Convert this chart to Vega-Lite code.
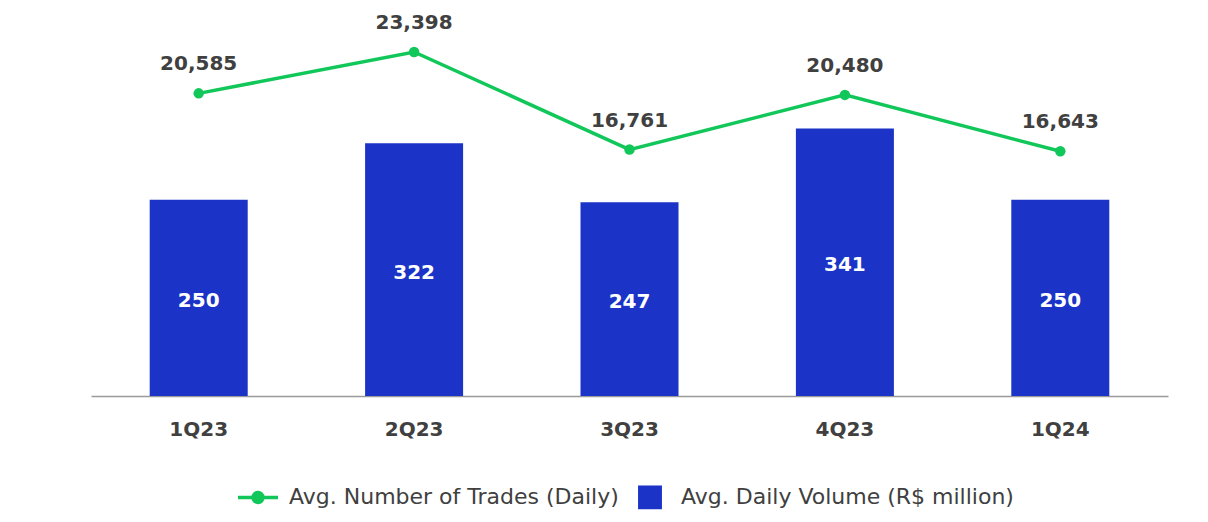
{
  "$schema": "https://vega.github.io/schema/vega-lite/v6.json",
  "width": 1077,
  "height": 386,
  "padding": {"left": 91, "top": 10, "right": 40, "bottom": 5},
  "background": "white",
  "config": {
    "view": {"stroke": null},
    "font": "DejaVu Sans"
  },
  "data": {
    "values": [
      {"quarter": "1Q23", "trades": 20585, "volume": 250},
      {"quarter": "2Q23", "trades": 23398, "volume": 322},
      {"quarter": "3Q23", "trades": 16761, "volume": 247},
      {"quarter": "4Q23", "trades": 20480, "volume": 341},
      {"quarter": "1Q24", "trades": 16643, "volume": 250}
    ]
  },
  "layer": [
    {
      "layer": [
        {
          "mark": {"type": "bar"},
          "encoding": {
            "y": {"field": "volume", "type": "quantitative", "scale": {"domain": [0, 492], "nice": false}, "axis": null},
            "color": {"datum": "Avg. Daily Volume (R$ million)", "type": "nominal"}
          }
        },
        {
          "transform": [{"calculate": "datum.volume / 2", "as": "mid"}],
          "mark": {"type": "text", "color": "white", "fontSize": 20, "fontWeight": "bold", "baseline": "middle", "dy": 3},
          "encoding": {
            "y": {"field": "mid", "type": "quantitative", "scale": {"domain": [0, 492], "nice": false}, "axis": null},
            "text": {"field": "volume", "type": "quantitative"}
          }
        }
      ]
    },
    {
      "layer": [
        {
          "mark": {"type": "line", "strokeWidth": 3.5, "point": {"filled": true, "size": 110, "color": "#12c75a"}},
          "encoding": {
            "y": {"field": "trades", "type": "quantitative", "scale": {"domain": [0, 26255], "nice": false}, "axis": null},
            "color": {"datum": "Avg. Number of Trades (Daily)", "type": "nominal"}
          }
        },
        {
          "mark": {"type": "text", "fontSize": 20, "fontWeight": "bold", "color": "#404040", "baseline": "middle", "dy": -29},
          "encoding": {
            "y": {"field": "trades", "type": "quantitative", "scale": {"domain": [0, 26255], "nice": false}, "axis": null},
            "text": {"field": "trades", "type": "quantitative", "format": ","}
          }
        }
      ]
    }
  ],
  "resolve": {"scale": {"y": "independent"}},
  "encoding": {
    "x": {
      "field": "quarter",
      "type": "nominal",
      "sort": null,
      "scale": {"paddingInner": 0.545, "paddingOuter": 0.2725},
      "axis": {
        "title": null,
        "labelAngle": 0,
        "ticks": false,
        "domainColor": "#9a9a9a",
        "domainWidth": 1.5,
        "labelFontSize": 20,
        "labelFontWeight": "bold",
        "labelColor": "#404040",
        "labelPadding": 23
      }
    },
    "color": {
      "type": "nominal",
      "scale": {
        "domain": ["Avg. Number of Trades (Daily)", "Avg. Daily Volume (R$ million)"],
        "range": ["#12c75a", "#1b33c6"]
      },
      "legend": {
        "title": null,
        "orient": "none",
        "legendX": 145,
        "legendY": 465,
        "direction": "horizontal",
        "labelFontSize": 22,
        "labelColor": "#404040",
        "labelLimit": 600,
        "symbolSize": 1600,
        "labelOffset": 9,
        "columnPadding": 9,
        "encode": {
          "symbols": {
            "update": {
              "shape": {"signal": "datum.value === 'Avg. Number of Trades (Daily)' ? 'M0,-0.51M0,0.51M-1,0H1M0.25,0A0.25,0.25 0 1,1 -0.25,0A0.25,0.25 0 1,1 0.25,0' : 'M-0.51,-0.51H0.51V0.51H-0.51Z'"},
              "strokeWidth": {"value": 3.5},
              "fillOpacity": {"value": 1}
            }
          }
        }
      }
    }
  }
}
